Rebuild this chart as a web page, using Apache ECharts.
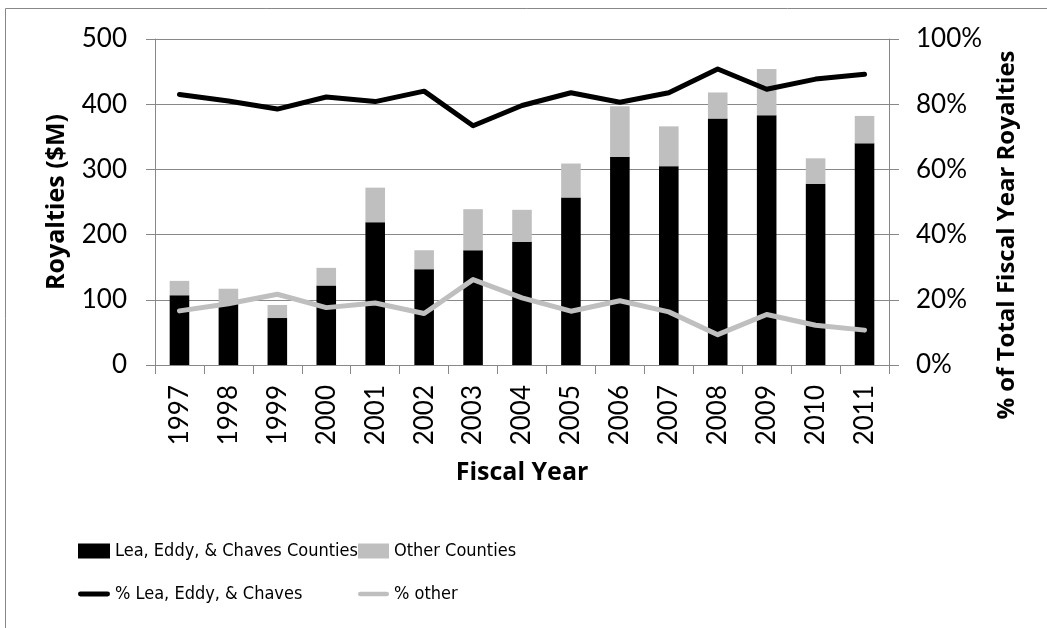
<!DOCTYPE html>
<html>
<head>
<meta charset="utf-8">
<script src="https://cdn.jsdelivr.net/npm/echarts@6/dist/echarts.min.js"></script>
<style>
  html, body { margin: 0; padding: 0; background: #fff; }
  #chart { width: 1047px; height: 628px; }
</style>
</head>
<body>
<div id="chart"></div>
<script>
// Fiscal years on the category axis
const years = ['1997','1998','1999','2000','2001','2002','2003','2004','2005','2006','2007','2008','2009','2010','2011'];

// Royalties in $M, stacked
const leaEddyChaves = [107, 95, 72, 122, 219, 147, 176, 189, 257, 319, 305, 378, 383, 278, 340];
const otherCounties = [22, 22, 20, 27, 53, 29, 63, 49, 52, 78, 61, 40, 71, 39, 42];

// Share of the fiscal year's total royalties, in percent
const pctLeaEddyChaves = [83.0, 81.0, 78.5, 82.2, 80.8, 84.0, 73.4, 79.6, 83.5, 80.6, 83.5, 90.8, 84.6, 87.7, 89.2];
const pctOther = [16.6, 18.8, 21.7, 17.6, 19.0, 15.8, 26.2, 20.6, 16.5, 19.7, 16.3, 9.3, 15.5, 12.2, 10.7];

// Axis ranges and tick steps
const royaltyMax = 500, royaltyStep = 100;
const pctMax = 100, pctStep = 20;

const gridGray = '#888888';
const tickFont = 'Lato, "Open Sans", sans-serif';
const titleFont = '"Open Sans", Lato, sans-serif';
const legendFont = '"DejaVu Sans Condensed", "DejaVu Sans", sans-serif';

// thick rounded stroke used as the legend swatch of the two lines
const lineSwatch = 'path://M2.5,0 L30.5,0 A2.5,2.5 0 0 1 30.5,5 L2.5,5 A2.5,2.5 0 0 1 2.5,0 Z';

const chart = echarts.init(document.getElementById('chart'), null, { renderer: 'canvas' });

const legendText = { fontFamily: legendFont, fontSize: 18, color: '#000' };

chart.setOption({
  animation: false,
  backgroundColor: '#fff',
  grid: { left: 155, right: 158, top: 39, bottom: 263, containLabel: false },
  legend: [
    {
      data: [
        { name: 'Lea, Eddy, & Chaves Counties', icon: 'rect' },
        { name: '% Lea, Eddy, & Chaves', icon: lineSwatch }
      ],
      orient: 'vertical', left: 73, top: 537,
      itemWidth: 32, itemHeight: 15, itemGap: 25,
      textStyle: legendText,
      selectedMode: false
    },
    {
      data: [
        { name: 'Other Counties', icon: 'rect' },
        { name: '% other', icon: lineSwatch }
      ],
      orient: 'vertical', left: 353, top: 537,
      itemWidth: 31, itemHeight: 15, itemGap: 25,
      textStyle: legendText,
      selectedMode: false
    }
  ],
  xAxis: {
    type: 'category',
    data: years,
    name: 'Fiscal Year',
    nameLocation: 'middle',
    nameGap: 95,
    nameTextStyle: { fontFamily: titleFont, fontWeight: 'bold', fontSize: 25, color: '#000' },
    axisLine: { lineStyle: { color: gridGray, width: 1 } },
    axisTick: { show: true, length: 9, lineStyle: { color: gridGray } },
    axisLabel: { rotate: 90, margin: 20, fontFamily: tickFont, fontSize: 26, color: '#000' }
  },
  yAxis: [
    {
      type: 'value',
      min: 0, max: royaltyMax, interval: royaltyStep,
      name: 'Royalties ($M)',
      nameLocation: 'middle',
      nameRotate: 90,
      nameGap: 86,
      nameTextStyle: { fontFamily: titleFont, fontWeight: 'bold', fontSize: 25, color: '#000' },
      axisLine: { show: true, lineStyle: { color: gridGray, width: 1 } },
      axisTick: { show: true, length: 9, lineStyle: { color: gridGray } },
      splitLine: { show: true, lineStyle: { color: gridGray, width: 1 } },
      axisLabel: { margin: 28, fontFamily: tickFont, fontSize: 26, color: '#000' }
    },
    {
      type: 'value',
      min: 0, max: pctMax, interval: pctStep,
      position: 'right',
      axisLine: { show: true, lineStyle: { color: gridGray, width: 1 } },
      axisTick: { show: true, length: 10, lineStyle: { color: gridGray } },
      splitLine: { show: false },
      axisLabel: { margin: 27, formatter: '{value}%', fontFamily: tickFont, fontSize: 26, color: '#000' }
    }
  ],
  graphic: [
    {
      // outer chart frame
      type: 'rect', silent: true, z: -1,
      shape: { x: 5.5, y: 8.5, width: 1200, height: 800 },
      style: { fill: null, stroke: gridGray, lineWidth: 1 }
    },
    {
      type: 'text', silent: true,
      x: 1007, y: 235, rotation: Math.PI / 2,
      style: {
        text: '% of Total Fiscal Year Royalties',
        fontFamily: titleFont, fontWeight: 'bold', fontSize: 24, fill: '#000',
        align: 'center', verticalAlign: 'middle'
      }
    }
  ],
  series: [
    {
      name: 'Lea, Eddy, & Chaves Counties',
      type: 'bar', stack: 'royalties', yAxisIndex: 0,
      data: leaEddyChaves,
      barWidth: '40%',
      itemStyle: { color: '#000000' }
    },
    {
      name: 'Other Counties',
      type: 'bar', stack: 'royalties', yAxisIndex: 0,
      data: otherCounties,
      barWidth: '40%',
      itemStyle: { color: '#bfbfbf' }
    },
    {
      name: '% Lea, Eddy, & Chaves',
      type: 'line', yAxisIndex: 1,
      data: pctLeaEddyChaves,
      symbol: 'none',
      lineStyle: { color: '#000000', width: 5, cap: 'round', join: 'round' },
      itemStyle: { color: '#000000' },
      z: 5
    },
    {
      name: '% other',
      type: 'line', yAxisIndex: 1,
      data: pctOther,
      symbol: 'none',
      lineStyle: { color: '#bfbfbf', width: 5, cap: 'round', join: 'round' },
      itemStyle: { color: '#bfbfbf' },
      z: 5
    }
  ]
});
</script>
</body>
</html>
